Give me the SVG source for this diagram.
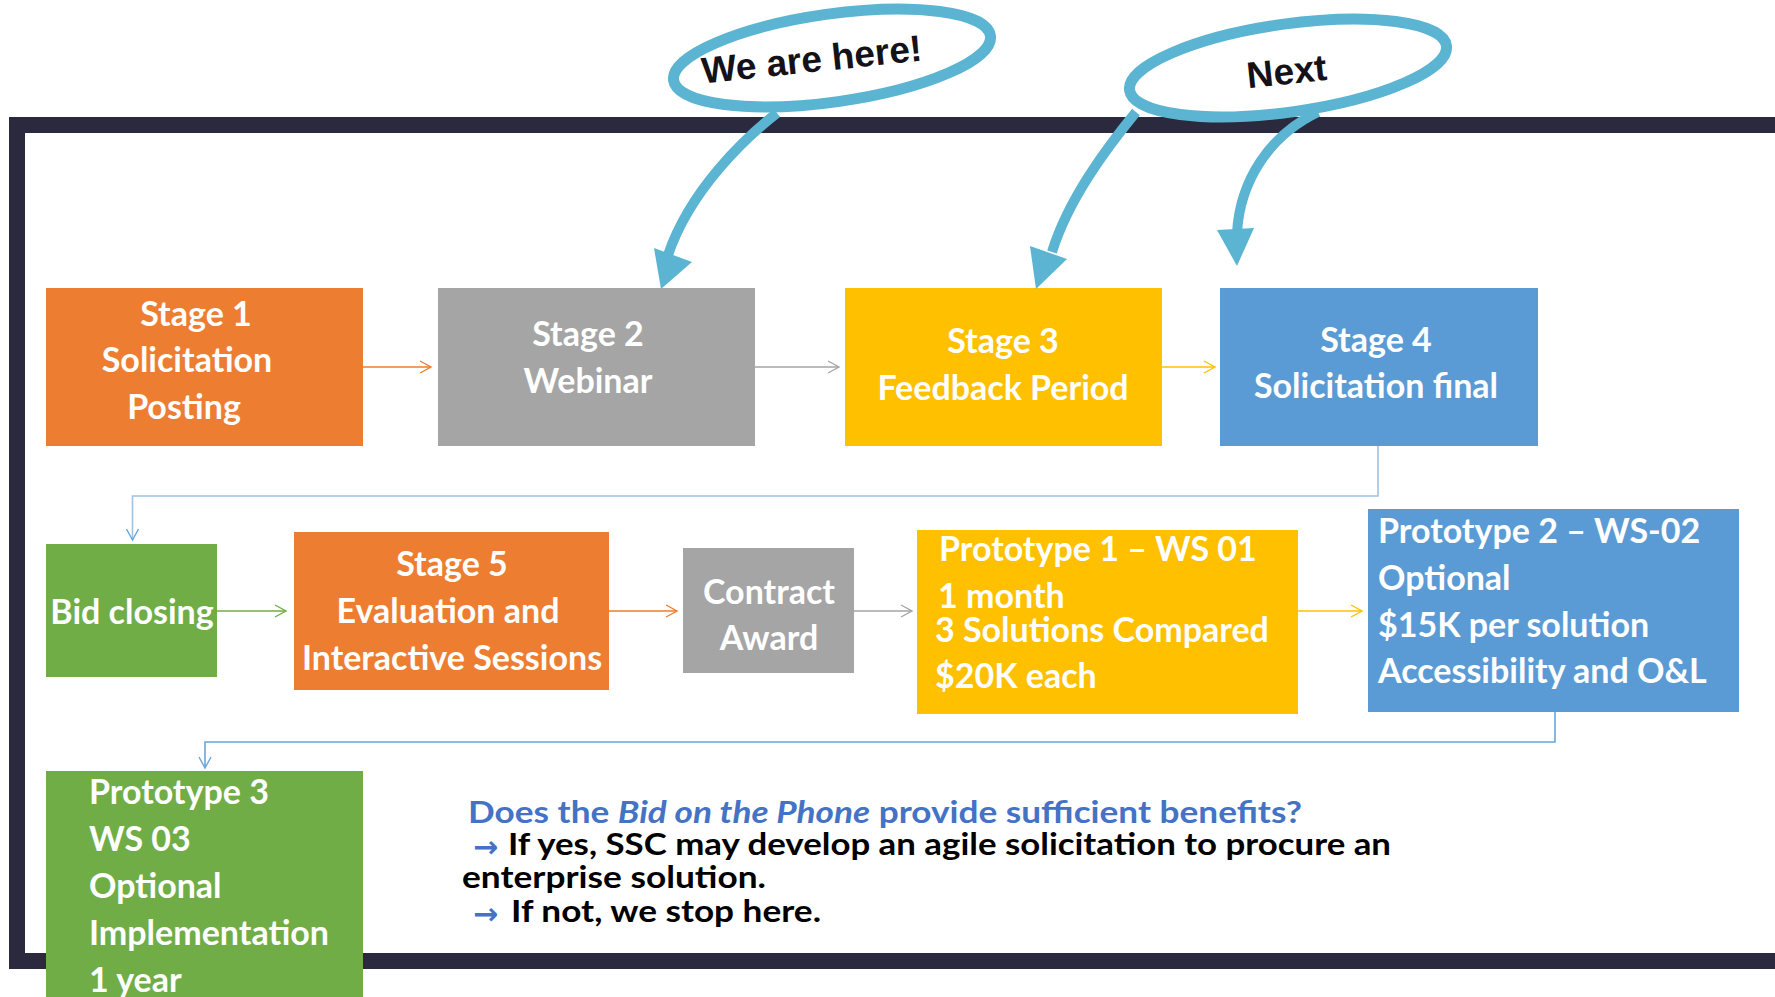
<svg xmlns="http://www.w3.org/2000/svg" width="1775" height="997" viewBox="0 0 1775 997">
<defs>
<style>
.box{stroke:none}
.bt{font-family:Lato,"Open Sans","Liberation Sans",sans-serif;font-weight:700;font-size:34px;fill:#fff}
.c{text-anchor:middle}
.conn{fill:none;stroke-width:1.6}
.call{fill:none;stroke:#5BB4D1;stroke-width:11}
.carrow{fill:none;stroke:#5BB4D1;stroke-width:10;stroke-linecap:butt}
.ahead{fill:#5BB4D1}
.ct{font-family:"Liberation Sans",Arial,sans-serif;font-weight:700;font-size:37px;fill:#141218}
.q{font-family:Lato,"Open Sans","Liberation Sans",sans-serif;font-weight:700;font-size:31px}
.bul{font-family:"DejaVu Sans",sans-serif;font-weight:700;font-size:30px;fill:#4472C4}
</style>
<marker id="mo" markerWidth="14" markerHeight="14" refX="12" refY="7" orient="auto" markerUnits="userSpaceOnUse"><path d="M1,1 L12,7 L1,13" fill="none" stroke="#ED7D31" stroke-width="1.4"/></marker>
<marker id="mg" markerWidth="14" markerHeight="14" refX="12" refY="7" orient="auto" markerUnits="userSpaceOnUse"><path d="M1,1 L12,7 L1,13" fill="none" stroke="#A5A5A5" stroke-width="1.4"/></marker>
<marker id="my" markerWidth="14" markerHeight="14" refX="12" refY="7" orient="auto" markerUnits="userSpaceOnUse"><path d="M1,1 L12,7 L1,13" fill="none" stroke="#FFC000" stroke-width="1.4"/></marker>
<marker id="mb" markerWidth="14" markerHeight="14" refX="12" refY="7" orient="auto" markerUnits="userSpaceOnUse"><path d="M1,1 L12,7 L1,13" fill="none" stroke="#6AA5DC" stroke-width="1.4"/></marker>
<marker id="mgr" markerWidth="14" markerHeight="14" refX="12" refY="7" orient="auto" markerUnits="userSpaceOnUse"><path d="M1,1 L12,7 L1,13" fill="none" stroke="#70AD47" stroke-width="1.4"/></marker>
</defs>
<rect width="1775" height="997" fill="#fff"/>

<!-- frame -->
<path id="frame" d="M1790,125 L17,125 L17,961 L1790,961" fill="none" stroke="#2A293D" stroke-width="16"/>

<!-- connectors -->
<g id="connectors">
<line class="conn" x1="363" y1="367" x2="431" y2="367" stroke="#ED7D31" marker-end="url(#mo)"/>
<line class="conn" x1="755" y1="367" x2="839" y2="367" stroke="#A5A5A5" marker-end="url(#mg)"/>
<line class="conn" x1="1162" y1="367" x2="1215" y2="367" stroke="#FFC000" marker-end="url(#my)"/>
<path class="conn" d="M1378,446 L1378,496 L132.5,496 L132.5,540" stroke="#9DC3E6" stroke-width="2" marker-end="url(#mb)"/>
<line class="conn" x1="217" y1="611" x2="286" y2="611" stroke="#70AD47" marker-end="url(#mgr)"/>
<line class="conn" x1="609" y1="611" x2="677" y2="611" stroke="#ED7D31" marker-end="url(#mo)"/>
<line class="conn" x1="854" y1="611" x2="912" y2="611" stroke="#A5A5A5" marker-end="url(#mg)"/>
<line class="conn" x1="1298" y1="611" x2="1362" y2="611" stroke="#FFC000" marker-end="url(#my)"/>
<path class="conn" d="M1555,712 L1555,742 L205,742 L205,768" stroke="#6AA5DC" marker-end="url(#mb)"/>
</g>

<!-- nodes -->
<g id="stage1">
<rect class="box" x="46" y="288" width="317" height="158" fill="#ED7D31"/>
<text class="bt c" x="196" y="326">Stage 1</text>
<text class="bt c" x="187" y="372">Solicitation</text>
<text class="bt c" x="184" y="419">Posting</text>
</g>
<g id="stage2">
<rect class="box" x="438" y="288" width="317" height="158" fill="#A5A5A5"/>
<text class="bt c" x="588" y="346">Stage 2</text>
<text class="bt c" x="588" y="393">Webinar</text>
</g>
<g id="stage3">
<rect class="box" x="845" y="288" width="317" height="158" fill="#FFC000"/>
<text class="bt c" x="1003" y="353">Stage 3</text>
<text class="bt c" x="1003" y="400">Feedback Period</text>
</g>
<g id="stage4">
<rect class="box" x="1220" y="288" width="318" height="158" fill="#5B9BD5"/>
<text class="bt c" x="1376" y="352">Stage 4</text>
<text class="bt c" x="1376" y="398">Solicitation final</text>
</g>
<g id="bidclosing">
<rect class="box" x="46" y="544" width="171" height="133" fill="#70AD47"/>
<text class="bt c" x="132" y="624">Bid closing</text>
</g>
<g id="stage5">
<rect class="box" x="294" y="532" width="315" height="158" fill="#ED7D31"/>
<text class="bt c" x="452" y="576">Stage 5</text>
<text class="bt c" x="448" y="623">Evaluation and</text>
<text class="bt c" x="452" y="670">Interactive Sessions</text>
</g>
<g id="contract">
<rect class="box" x="683" y="548" width="171" height="125" fill="#A5A5A5"/>
<text class="bt c" x="769" y="604">Contract</text>
<text class="bt c" x="769" y="650">Award</text>
</g>
<g id="prototype1">
<rect class="box" x="917" y="530" width="381" height="184" fill="#FFC000"/>
<text class="bt" x="939" y="561">Prototype 1 – WS 01</text>
<text class="bt" x="938" y="608">1 month</text>
<text class="bt" x="935" y="642">3 Solutions Compared</text>
<text class="bt" x="935" y="688">$20K each</text>
</g>
<g id="prototype2">
<rect class="box" x="1368" y="509" width="371" height="203" fill="#5B9BD5"/>
<text class="bt" x="1378" y="543">Prototype 2 – WS-02</text>
<text class="bt" x="1378" y="590">Optional</text>
<text class="bt" x="1378" y="637">$15K per solution</text>
<text class="bt" x="1378" y="683">Accessibility and O&amp;L</text>
</g>
<g id="prototype3">
<rect class="box" x="46" y="771" width="317" height="230" fill="#70AD47"/>
<text class="bt" x="89" y="804">Prototype 3</text>
<text class="bt" x="89" y="851">WS 03</text>
<text class="bt" x="89" y="898">Optional</text>
<text class="bt" x="89" y="945">Implementation</text>
<text class="bt" x="89" y="992">1 year</text>
</g>

<!-- question -->
<g id="question">
<text class="q" x="468" y="823" fill="#4472C4" textLength="834" lengthAdjust="spacingAndGlyphs">Does the <tspan font-style="italic">Bid on the Phone</tspan> provide sufficient benefits?</text>
<text class="bul" x="473" y="857">→</text>
<text class="q" x="508" y="855" fill="#000" textLength="883" lengthAdjust="spacingAndGlyphs">If yes, SSC may develop an agile solicitation to procure an</text>
<text class="q" x="462" y="888" fill="#000" textLength="304" lengthAdjust="spacingAndGlyphs">enterprise solution.</text>
<text class="bul" x="473" y="924">→</text>
<text class="q" x="511" y="922" fill="#000" textLength="310" lengthAdjust="spacingAndGlyphs">If not, we stop here.</text>
</g>

<!-- callouts -->
<g id="callout-here">
<ellipse class="call" cx="832" cy="58" rx="160" ry="44" transform="rotate(-8 832 58)"/>
<text class="ct c" x="813" y="72" transform="rotate(-6 813 72)">We are here!</text>
<path class="carrow" d="M777,113 C745,138 690,190 668,255"/>
<polygon class="ahead" points="654,248 692,262 661,289"/>
</g>
<g id="callout-next">
<ellipse class="call" cx="1288" cy="68" rx="160" ry="44" transform="rotate(-8 1288 68)"/>
<text class="ct c" x="1288" y="84" transform="rotate(-6 1288 84)">Next</text>
<path class="carrow" d="M1136,112 C1105,150 1068,200 1052,252"/>
<polygon class="ahead" points="1030,246 1067,259 1036,289"/>
<path class="carrow" d="M1318,112 C1270,135 1240,180 1237,233"/>
<polygon class="ahead" points="1217,230 1254,228 1237,266"/>
</g>
</svg>
